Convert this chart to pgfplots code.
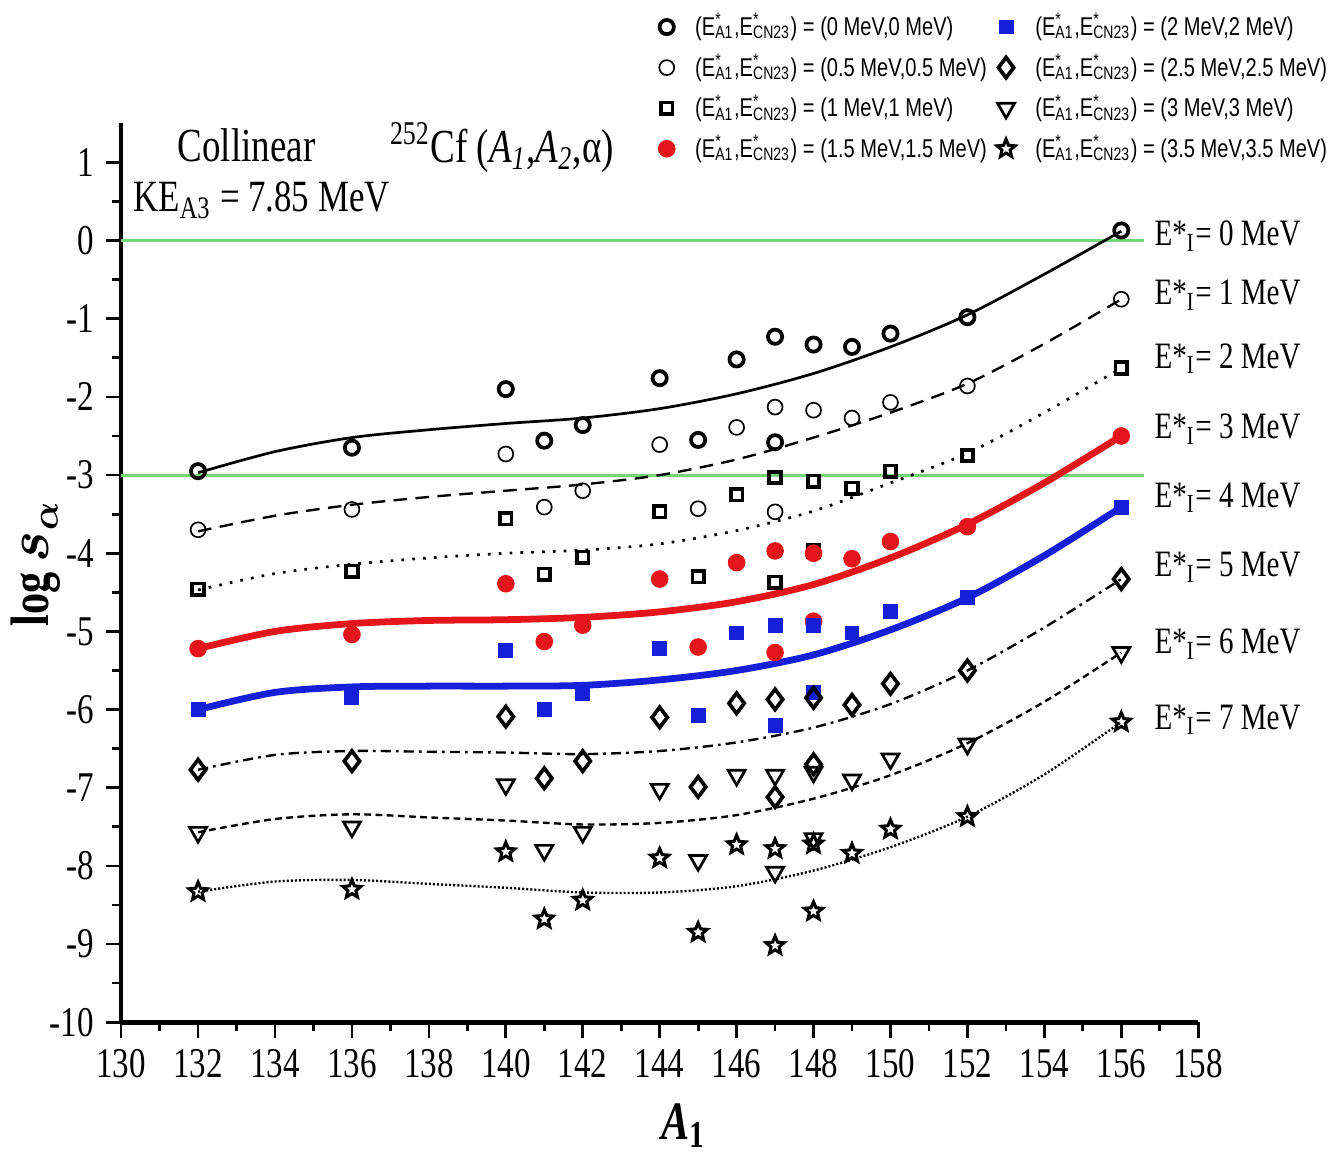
\documentclass[border=0pt]{standalone}
\usepackage{fontspec}
\setmainfont{Liberation Serif}[FakeStretch=0.78]
\setsansfont{Liberation Sans}[FakeStretch=0.78]
\usepackage{bm}
\usepackage{pgfplots}
\pgfplotsset{compat=1.18}
\usetikzlibrary{plotmarks}

\definecolor{fitred}{RGB}{228,22,28}
\definecolor{fitblue}{RGB}{22,32,216}
\definecolor{refgreen}{RGB}{120,212,120}

% outlined five-pointed star
\pgfdeclareplotmark{ostar}{%
  \pgfpathmoveto{\pgfpointpolar{90}{\pgfplotmarksize}}%
  \pgfpathlineto{\pgfpointpolar{126}{0.45\pgfplotmarksize}}%
  \pgfpathlineto{\pgfpointpolar{162}{\pgfplotmarksize}}%
  \pgfpathlineto{\pgfpointpolar{198}{0.45\pgfplotmarksize}}%
  \pgfpathlineto{\pgfpointpolar{234}{\pgfplotmarksize}}%
  \pgfpathlineto{\pgfpointpolar{270}{0.45\pgfplotmarksize}}%
  \pgfpathlineto{\pgfpointpolar{306}{\pgfplotmarksize}}%
  \pgfpathlineto{\pgfpointpolar{342}{0.45\pgfplotmarksize}}%
  \pgfpathlineto{\pgfpointpolar{18}{\pgfplotmarksize}}%
  \pgfpathlineto{\pgfpointpolar{54}{0.45\pgfplotmarksize}}%
  \pgfpathclose
  \pgfusepathqstroke
}

% marker styles, one per (E*_A1, E*_CN23) pair
\pgfplotsset{
  lgimg/.style={legend image code/.code={%
    \draw[mark repeat=2, mark phase=2, ##1] plot coordinates {(0cm,0cm) (0.18cm,0cm) (0.36cm,0cm)};}},
  sA/.style={only marks, lgimg, mark=o, mark size=2.1pt, mark options={line width=1.1pt, black}},
  sB/.style={only marks, lgimg, mark=o, mark size=2.2pt, mark options={line width=0.5pt, black}},
  sC/.style={only marks, lgimg, mark=square, mark size=1.7pt, mark options={line width=1.1pt, black}},
  sD/.style={only marks, lgimg, mark=*, mark size=2.4pt, mark options={fitred, draw=fitred, fill=fitred}},
  sE/.style={only marks, lgimg, mark=square*, mark size=2pt, mark options={fitblue, draw=fitblue, fill=fitblue}},
  sF/.style={only marks, lgimg, mark=diamond, mark size=3pt, mark options={line width=1.1pt, black}},
  sG/.style={only marks, lgimg, mark=triangle, mark size=2.9pt, mark options={rotate=180, line width=0.8pt, black}},
  sH/.style={only marks, lgimg, mark=ostar, mark size=2.8pt, mark options={line width=0.9pt, black}},
}

% stacked super/subscript for the legend
\newcommand{\estar}[1]{E\rlap{\textsuperscript{*}}\textsubscript{#1}}
\newcommand{\legtxt}[2]{(\estar{A1},\estar{CN23}) = (#1 MeV,#2 MeV)}
\newcommand{\eI}[1]{E*\textsubscript{I}= #1 MeV}

\begin{document}
\begin{tikzpicture}
\begin{axis}[
    scale only axis,
    width=11.18cm, height=9.33cm,
    xmin=130, xmax=158, ymin=-10, ymax=1.5,
    axis x line=bottom, axis y line=left,
    x axis line style={-, line width=1.5pt},
    y axis line style={-, line width=1pt},
    xtick={130,132,...,158}, ytick={-10,-9,...,1},
    minor x tick num=1, minor y tick num=1,
    tick align=outside,
    major tick length=0.16cm, minor tick length=0.09cm,
    every tick/.style={black, line width=0.8pt},
    /pgf/number format/assume math mode=true,
    ticklabel style={font=\fontsize{12.5}{14}\selectfont},
    xlabel={\fontsize{16}{18}\selectfont\textbf{\textit{A}\textsubscript{1}}},
    xlabel style={at={(axis description cs:0.522,-0.115)}, anchor=center},
    ylabel={\fontsize{16}{18}\selectfont\textbf{log} $\bm{s_{\alpha}}$},
    ylabel style={at={(axis description cs:-0.079,0.51)}, anchor=center},
    clip=false,
    legend columns=2,
    legend cell align=left,
    legend style={at={(axis description cs:1.136,1.138)}, anchor=north east,
        draw=none, fill=none, font=\sffamily\fontsize{7.6}{9}\selectfont,
        row sep=0pt,
        /tikz/every even column/.append style={column sep=1pt},
        /tikz/every odd column/.append style={column sep=4pt}},
]

% reference lines
\addplot[refgreen, line width=0.9pt, forget plot] coordinates {(130,0) (156.6,0)};
\addplot[refgreen, line width=0.9pt, forget plot] coordinates {(130,-3) (156.6,-3)};

% fitted curves, E*_I = 0 ... 7 MeV
\addplot[black, line width=0.8pt, smooth, forget plot] coordinates {
(132,-2.97) (134,-2.70) (136,-2.52) (138,-2.42) (140,-2.34) (142,-2.27) (144,-2.15)
(146,-1.96) (148,-1.70) (150,-1.36) (152,-0.95) (154,-0.43) (156,0.12)};
\addplot[black, line width=0.7pt, dash pattern=on 4pt off 2.5pt, smooth, forget plot] coordinates {
(132,-3.72) (134,-3.52) (136,-3.38) (138,-3.28) (140,-3.20) (142,-3.12) (144,-3.00)
(146,-2.80) (148,-2.52) (150,-2.20) (152,-1.83) (154,-1.32) (156,-0.75)};
\addplot[black, line width=0.8pt, dash pattern=on 0.8pt off 2.4pt, smooth, forget plot] coordinates {
(132,-4.47) (134,-4.26) (136,-4.14) (138,-4.06) (140,-4.00) (142,-3.96) (144,-3.88)
(146,-3.71) (148,-3.46) (150,-3.10) (152,-2.72) (154,-2.20) (156,-1.63)};
\addplot[fitred, line width=2pt, smooth, forget plot] coordinates {
(132,-5.22) (134,-5.00) (136,-4.90) (138,-4.86) (140,-4.85) (142,-4.82) (144,-4.75)
(146,-4.62) (148,-4.40) (150,-4.06) (152,-3.63) (154,-3.10) (156,-2.50)};
\addplot[fitblue, line width=2pt, smooth, forget plot] coordinates {
(132,-6.00) (134,-5.78) (136,-5.71) (138,-5.70) (140,-5.70) (142,-5.69) (144,-5.62)
(146,-5.50) (148,-5.30) (150,-4.98) (152,-4.57) (154,-4.03) (156,-3.41)};
\addplot[black, line width=0.7pt, dash pattern=on 3pt off 1.5pt on 0.8pt off 1.5pt, smooth, forget plot] coordinates {
(132,-6.77) (134,-6.58) (136,-6.53) (138,-6.54) (140,-6.55) (142,-6.57) (144,-6.53)
(146,-6.42) (148,-6.23) (150,-5.93) (152,-5.50) (154,-4.95) (156,-4.33)};
\addplot[black, line width=0.7pt, dash pattern=on 2pt off 1.3pt, smooth, forget plot] coordinates {
(132,-7.57) (134,-7.40) (136,-7.34) (138,-7.38) (140,-7.42) (142,-7.47) (144,-7.45)
(146,-7.35) (148,-7.14) (150,-6.84) (152,-6.43) (154,-5.90) (156,-5.27)};
\addplot[black, line width=0.7pt, dash pattern=on 0.6pt off 0.6pt, smooth, forget plot] coordinates {
(132,-8.33) (134,-8.20) (136,-8.18) (138,-8.23) (140,-8.28) (142,-8.34) (144,-8.34)
(146,-8.26) (148,-8.06) (150,-7.76) (152,-7.37) (154,-6.83) (156,-6.16)};

% scatter series (E*_A1, E*_CN23) = 0, 0.5, ..., 3.5 MeV
\addplot[sA, forget plot] coordinates {
(132,-2.95) (136,-2.65) (140,-1.90) (141,-2.56) (142,-2.36) (144,-1.76) (145,-2.55)
(146,-1.52) (147,-1.23) (147,-2.58) (148,-1.33) (149,-1.36) (150,-1.19) (152,-0.98) (156,0.13)};
\addplot[sB, forget plot] coordinates {
(132,-3.70) (136,-3.44) (140,-2.73) (141,-3.41) (142,-3.20) (144,-2.61) (145,-3.43)
(146,-2.39) (147,-2.13) (147,-3.47) (148,-2.17) (149,-2.27) (150,-2.07) (152,-1.86) (156,-0.75)};
\addplot[sC, forget plot] coordinates {
(132,-4.46) (136,-4.23) (140,-3.56) (141,-4.27) (142,-4.05) (144,-3.47) (145,-4.30)
(146,-3.25) (147,-3.03) (147,-4.37) (148,-3.08) (148,-3.97) (149,-3.17) (150,-2.95) (152,-2.75) (156,-1.63)};
\addplot[sD, forget plot] coordinates {
(132,-5.22) (136,-5.04) (140,-4.39) (141,-5.13) (142,-4.92) (144,-4.33) (145,-5.20)
(146,-4.12) (147,-3.97) (147,-5.27) (148,-4.00) (148,-4.87) (149,-4.07) (150,-3.85) (152,-3.66) (156,-2.50)};
\addplot[sE, forget plot] coordinates {
(132,-6.00) (136,-5.85) (140,-5.24) (141,-6.00) (142,-5.80) (144,-5.22) (145,-6.08)
(146,-5.02) (147,-4.92) (147,-6.20) (148,-4.92) (148,-5.78) (149,-5.02) (150,-4.75) (152,-4.57) (156,-3.41)};
\addplot[sF, forget plot] coordinates {
(132,-6.77) (136,-6.66) (140,-6.09) (141,-6.88) (142,-6.66) (144,-6.10) (145,-6.99)
(146,-5.92) (147,-5.87) (147,-7.12) (148,-5.85) (148,-6.70) (149,-5.94) (150,-5.67) (152,-5.50) (156,-4.33)};
\addplot[sG, forget plot] coordinates {
(132,-7.57) (136,-7.50) (140,-6.96) (141,-7.80) (142,-7.57) (144,-7.02) (145,-7.93)
(146,-6.84) (147,-6.84) (147,-8.08) (148,-6.80) (148,-7.65) (149,-6.90) (150,-6.63) (152,-6.44) (156,-5.27)};
\addplot[sH, forget plot] coordinates {
(132,-8.33) (136,-8.30) (140,-7.82) (141,-8.68) (142,-8.44) (144,-7.90) (145,-8.85)
(146,-7.73) (147,-7.78) (147,-9.02) (148,-7.72) (148,-8.58) (149,-7.84) (150,-7.53) (152,-7.37) (156,-6.16)};

% legend, filled row by row
\addlegendimage{sA} \addlegendentry{\legtxt{0}{0}}
\addlegendimage{sE} \addlegendentry{\legtxt{2}{2}}
\addlegendimage{sB} \addlegendentry{\legtxt{0.5}{0.5}}
\addlegendimage{sF} \addlegendentry{\legtxt{2.5}{2.5}}
\addlegendimage{sC} \addlegendentry{\legtxt{1}{1}}
\addlegendimage{sG} \addlegendentry{\legtxt{3}{3}}
\addlegendimage{sD} \addlegendentry{\legtxt{1.5}{1.5}}
\addlegendimage{sH} \addlegendentry{\legtxt{3.5}{3.5}}

% annotations
\node[font=\fontsize{14}{16}\selectfont] at (axis cs:133.26,1.22) {Collinear};
\node[font=\fontsize{14}{16}\selectfont] at (axis cs:139.9,1.19) {\textsuperscript{252}Cf (\textit{A}\textsubscript{\textit{1}},\textit{A}\textsubscript{\textit{2}},α)};
\node[font=\fontsize{13.2}{16}\selectfont] at (axis cs:133.65,0.52) {KE\textsubscript{A3} = 7.85 MeV};

\node[anchor=west, font=\fontsize{11}{13}\selectfont, inner sep=0pt] at (axis cs:156.85,0.06) {\eI{0}};
\node[anchor=west, font=\fontsize{11}{13}\selectfont, inner sep=0pt] at (axis cs:156.85,-0.70) {\eI{1}};
\node[anchor=west, font=\fontsize{11}{13}\selectfont, inner sep=0pt] at (axis cs:156.85,-1.51) {\eI{2}};
\node[anchor=west, font=\fontsize{11}{13}\selectfont, inner sep=0pt] at (axis cs:156.85,-2.41) {\eI{3}};
\node[anchor=west, font=\fontsize{11}{13}\selectfont, inner sep=0pt] at (axis cs:156.85,-3.29) {\eI{4}};
\node[anchor=west, font=\fontsize{11}{13}\selectfont, inner sep=0pt] at (axis cs:156.85,-4.18) {\eI{5}};
\node[anchor=west, font=\fontsize{11}{13}\selectfont, inner sep=0pt] at (axis cs:156.85,-5.16) {\eI{6}};
\node[anchor=west, font=\fontsize{11}{13}\selectfont, inner sep=0pt] at (axis cs:156.85,-6.13) {\eI{7}};
\end{axis}
\end{tikzpicture}
\end{document}
